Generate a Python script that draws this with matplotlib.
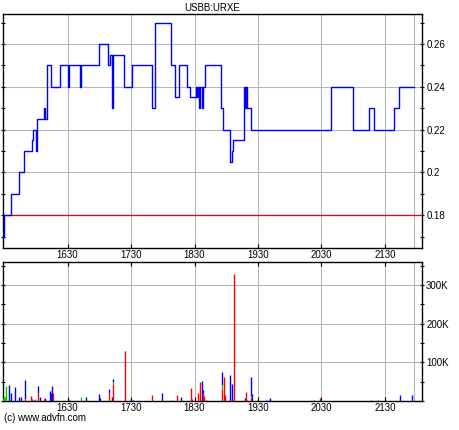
import matplotlib
matplotlib.use('Agg')
import matplotlib.pyplot as plt
from matplotlib.ticker import MultipleLocator, FuncFormatter
import numpy as np

plt.rcParams['font.family'] = ['Liberation Sans', 'DejaVu Sans']

title = 'USBB:URXE'

# price changes (time, price), drawn as steps
price_times = ['15:29', '15:30', '15:37', '15:44', '15:49', '15:56', '15:57', '16:00', '16:01',
               '16:08', '16:09', '16:11', '16:14', '16:23', '16:30', '16:31', '16:42', '16:43',
               '17:00', '17:08', '17:10', '17:12', '17:13', '17:23', '17:31', '17:50', '17:53',
               '18:08', '18:12', '18:15', '18:23', '18:26', '18:31', '18:32', '18:33', '18:34',
               '18:35', '18:37', '18:38', '18:40', '18:55', '18:57', '19:04', '19:05', '19:06',
               '19:17', '19:18', '19:19', '19:20', '19:23', '20:39', '21:00', '21:15', '21:20',
               '21:39', '21:43', '21:57']
prices = [0.17, 0.18, 0.19, 0.20, 0.21, 0.215, 0.22, 0.21, 0.225,
          0.23, 0.225, 0.25, 0.24, 0.25, 0.24, 0.25, 0.24, 0.25,
          0.26, 0.25, 0.255, 0.23, 0.255, 0.24, 0.25, 0.23, 0.27,
          0.25, 0.235, 0.25, 0.24, 0.235, 0.24, 0.235, 0.24, 0.23,
          0.24, 0.23, 0.24, 0.25, 0.23, 0.22, 0.205, 0.21, 0.215,
          0.24, 0.23, 0.24, 0.23, 0.22, 0.24, 0.22, 0.23, 0.22,
          0.23, 0.24, 0.24]
ref_price = 0.18

# volume per minute, split by colour (stacked red, green, blue), in thousands
vol_times = ['15:29', '15:30', '15:31', '15:32', '15:35', '15:37', '15:40', '15:44', '15:46',
             '15:50', '15:55', '15:56', '15:58', '15:59', '16:02', '16:04', '16:08', '16:09',
             '16:13', '16:14', '16:15', '16:16', '16:30', '16:31', '16:43', '16:47', '17:00',
             '17:01', '17:09', '17:12', '17:13', '17:24', '17:30', '17:32', '17:50', '17:59',
             '18:09', '18:13', '18:17', '18:27', '18:28', '18:33', '18:35', '18:37', '18:38',
             '18:39', '18:41', '18:56', '18:58', '18:59', '19:04', '19:05', '19:07', '19:18',
             '19:19', '19:20', '19:23', '19:24', '19:38', '19:40', '19:41', '20:23', '20:29',
             '21:17', '21:23', '21:44', '21:56']
vol_red = [0, 0, 0, 0, 0, 0, 0, 0, 0,
           4, 13, 5, 0, 0, 20, 0, 5, 0,
           0, 0, 0, 22, 0, 2, 0, 0, 0,
           0, 20, 0, 45, 126, 0, 0, 16, 0,
           3, 16, 0, 34, 5, 22, 48, 0, 20,
           12, 0, 30, 62, 15, 0, 0, 330, 0,
           24, 3, 8, 0, 0, 0, 0, 0, 8,
           3, 3, 0, 0]
vol_green = [8, 10, 10, 40, 0, 0, 0, 0, 0,
             0, 0, 0, 0, 5, 2, 0, 0, 0,
             0, 0, 0, 0, 0, 0, 10, 0, 0,
             0, 2, 0, 4, 0, 0, 0, 0, 0,
             0, 0, 0, 0, 0, 0, 0, 0, 2,
             0, 0, 12, 0, 0, 0, 0, 0, 0,
             0, 0, 4, 0, 0, 0, 0, 0, 0,
             0, 0, 0, 0]
vol_blue = [0, 0, 0, 0, 41, 22, 35, 10, 10,
            51, 0, 0, 3, 0, 17, 10, 0, 8,
            26, 20, 39, 0, 5, 0, 0, 10, 18,
            8, 9, 10, 8, 3, 5, 2, 0, 22,
            0, 0, 10, 0, 0, 0, 0, 52, 6,
            0, 3, 32, 0, 0, 68, 45, 0, 8,
            0, 0, 50, 17, 3, 3, 8, 3, 0,
            0, 0, 16, 16]


def minutes(t):
    h, m = t.split(':')
    return int(h) * 60 + int(m)


px = np.array([minutes(t) for t in price_times])
vx = np.array([minutes(t) for t in vol_times])
vr = np.array(vol_red) * 1000
vg = np.array(vol_green) * 1000
vb = np.array(vol_blue) * 1000

xmin, xmax = 929, 1325
hour_ticks = np.arange(990, 1320, 60)
grid_kw = dict(color='#b4b8b8', linewidth=0.8, linestyle='-')

fig = plt.figure(figsize=(4.6, 4.3), dpi=100)
ax1 = fig.add_axes([3 / 460, 1 - 248 / 430, 419 / 460, 234 / 430])
ax2 = fig.add_axes([3 / 460, 1 - 401 / 430, 419 / 460, 139 / 430])

for ax in (ax1, ax2):
    ax.set_xlim(xmin, xmax)
    ax.set_xticks(hour_ticks)
    ax.set_xticklabels(['%d%02d' % (m // 60, m % 60) for m in hour_ticks])
    for m in hour_ticks:
        ax.axvline(m, zorder=0, **grid_kw)
    ax.axvline(px[-1], zorder=0, **grid_kw)
    ax.yaxis.tick_right()
    ax.tick_params(axis='both', labelsize=7, length=3, width=0.8, pad=1.5)
    ax.tick_params(axis='y', which='minor', length=3, width=0.8, right=True, left=True, direction='inout')
    ax.tick_params(axis='y', which='major', right=True, left=True, direction='inout')
    ax.tick_params(axis='x', direction='in', top=False)
    for s in ax.spines.values():
        s.set_linewidth(1.0)

# price panel
ax1.set_ylim(0.1647, 0.274)
ax1.yaxis.set_major_locator(MultipleLocator(0.02))
ax1.yaxis.set_minor_locator(MultipleLocator(0.01))
ax1.yaxis.set_major_formatter(FuncFormatter(lambda v, p: '%g' % round(v, 2)))
for v in np.arange(0.18, 0.27, 0.02):
    ax1.axhline(v, zorder=0, **grid_kw)
ax1.plot(px, prices, drawstyle='steps-post', color='#0000ff', linewidth=1.0, zorder=3)
ax1.axhline(ref_price, color='#ee0000', linewidth=0.9, zorder=2)
ax1.set_title(title, fontsize=7, pad=2)

# volume panel
ax2.set_ylim(0, 360000)
ax2.yaxis.set_major_locator(MultipleLocator(100000))
ax2.yaxis.set_minor_locator(MultipleLocator(50000))
ax2.yaxis.set_major_formatter(FuncFormatter(lambda v, p: '' if v == 0 else '%dK' % (v / 1000)))
for v in (100000, 200000, 300000):
    ax2.axhline(v, zorder=0, **grid_kw)
ax2.vlines(vx, vr + vg, vr + vg + vb, color='#0000ff', linewidth=1.0, zorder=3)
ax2.vlines(vx, vr, vr + vg, color='#00cc00', linewidth=1.0, zorder=4)
ax2.vlines(vx, 0, vr, color='#ff0000', linewidth=1.0, zorder=5)
ax2.tick_params(axis='x', labeltop=False, top=True)

fig.text(4 / 460, 1 - 418 / 430, '(c) www.advfn.com', fontsize=7, va='center', ha='left')

fig.savefig('out.png', dpi=100)
